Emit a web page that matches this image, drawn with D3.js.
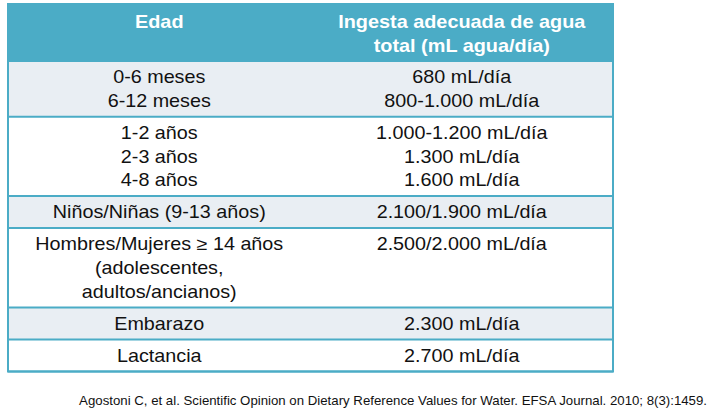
<!DOCTYPE html>
<html><head><meta charset="utf-8">
<script src="https://cdn.jsdelivr.net/npm/d3@7"></script>
<style>body{margin:0;background:#fff}svg{display:block}text{font-family:"Liberation Sans",Arial,sans-serif}</style>
</head><body>
<svg id="c" width="712" height="418"></svg>
<script>
const headers = [["Edad"], ["Ingesta adecuada de agua", "total (mL agua/día)"]];
const ages = [
  ["0-6 meses", "6-12 meses"],
  ["1-2 años", "2-3 años", "4-8 años"],
  ["Niños/Niñas (9-13 años)"],
  ["Hombres/Mujeres ≥ 14 años", "(adolescentes,", "adultos/ancianos)"],
  ["Embarazo"],
  ["Lactancia"]
];
const intakes = [
  ["680 mL/día", "800-1.000 mL/día"],
  ["1.000-1.200 mL/día", "1.300 mL/día", "1.600 mL/día"],
  ["2.100/1.900 mL/día"],
  ["2.500/2.000 mL/día"],
  ["2.300 mL/día"],
  ["2.700 mL/día"]
];
const source = "Agostoni C, et al. Scientific Opinion on Dietary Reference Values for Water. EFSA Journal. 2010; 8(3):1459.";

const svg = d3.select("#c");
const tLeft = 8, tRight = 613, tTop = 4, headerH = 57, lineH = 23.7, rowPad = 8.3;
const x = d3.scaleBand().domain([0, 1]).range([tLeft, tRight]);
const rowsN = ages.map((a, i) => Math.max(a.length, intakes[i].length));
const rowY = [tTop + headerH];
rowsN.forEach(n => rowY.push(rowY[rowY.length - 1] + n * lineH + rowPad));

function label(g, cx, by, t, fs, sx, opts) {
  const el = g.append("text").attr("transform", `translate(${cx},${by}) scale(${sx},1)`)
    .attr("text-anchor", opts.anchor || "middle").attr("font-size", fs).attr("fill", opts.fill || "#111").text(t);
  if (opts.bold) el.attr("font-weight", "bold");
  return el;
}

// header
svg.append("rect").attr("x", tLeft).attr("y", tTop).attr("width", tRight - tLeft).attr("height", headerH).attr("fill", "#4BACC6");
headers.forEach((h, c) => {
  h.forEach((t, k) => label(svg, x(c) + x.bandwidth() / 2, tTop + 24.3 + k * 23.4, t, 18.6, 1.068, {fill: "#fff", bold: true}));
});
// rows
rowsN.forEach((n, i) => {
  svg.append("rect").attr("x", tLeft).attr("y", rowY[i]).attr("width", tRight - tLeft).attr("height", rowY[i + 1] - rowY[i])
    .attr("fill", i % 2 === 0 ? "#E9EEF3" : "#fff");
  [ages[i], intakes[i]].forEach((lines, c) => {
    lines.forEach((t, k) => label(svg, x(c) + x.bandwidth() / 2, rowY[i] + 22.3 + k * lineH, t, 17.7, 1.116, {}));
  });
});
// grid lines
rowY.forEach(y => svg.append("line").attr("x1", tLeft).attr("x2", tRight).attr("y1", y).attr("y2", y)
  .attr("stroke", "#4BACC6").attr("stroke-width", 2));
svg.append("rect").attr("x", tLeft).attr("y", tTop).attr("width", tRight - tLeft).attr("height", rowY[rowY.length - 1] - tTop)
  .attr("fill", "none").attr("stroke", "#4BACC6").attr("stroke-width", 2);

label(svg, 707, 404.5, source, 12.1, 1.094, {anchor: "end"});
</script>
</body></html>
